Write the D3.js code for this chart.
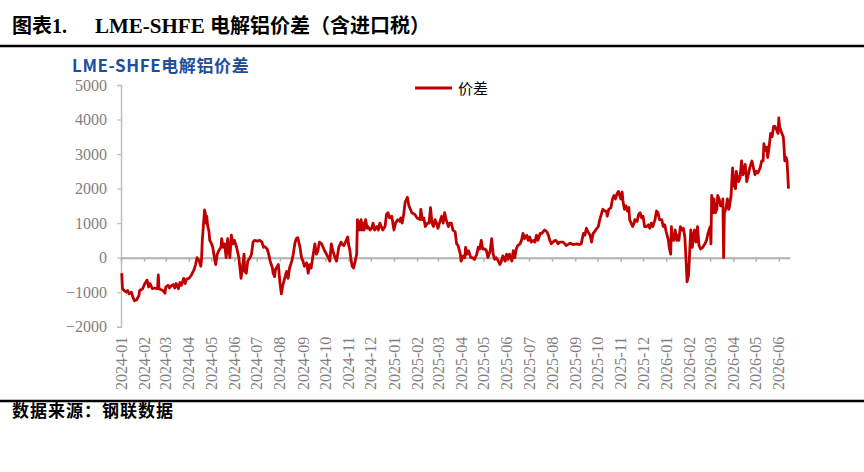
<!DOCTYPE html>
<html>
<head>
<meta charset="utf-8">
<script src="https://cdn.jsdelivr.net/npm/d3@7"></script>
<style>
  body { margin: 0; background: #fff; }
  svg { display: block; }
</style>
</head>
<body>
<div id="chart-area"></div>
<script>
// LME-SHFE 电解铝价差 (含进口税)
const dates = [
  "2024-01-02","2024-01-03","2024-01-05","2024-01-08","2024-01-10","2024-01-12","2024-01-15","2024-01-17","2024-01-19","2024-01-22",
  "2024-01-25","2024-01-26","2024-01-30","2024-02-02","2024-02-05","2024-02-07","2024-02-09","2024-02-12","2024-02-15","2024-02-19",
  "2024-02-20","2024-02-21","2024-02-23","2024-02-26","2024-02-29","2024-03-01","2024-03-04","2024-03-06","2024-03-08","2024-03-11",
  "2024-03-13","2024-03-15","2024-03-18","2024-03-20","2024-03-22","2024-03-25","2024-03-27","2024-03-29","2024-04-01","2024-04-03",
  "2024-04-05","2024-04-08","2024-04-10","2024-04-12","2024-04-15","2024-04-17","2024-04-18","2024-04-19","2024-04-22","2024-04-23",
  "2024-04-24","2024-04-25","2024-04-26","2024-04-28","2024-04-29","2024-05-01","2024-05-03","2024-05-06","2024-05-07","2024-05-09",
  "2024-05-11","2024-05-14","2024-05-15","2024-05-17","2024-05-19","2024-05-21","2024-05-23","2024-05-26","2024-05-28","2024-05-30",
  "2024-06-01","2024-06-04","2024-06-07","2024-06-10","2024-06-12","2024-06-14","2024-06-15","2024-06-17","2024-06-19","2024-06-22",
  "2024-06-24","2024-06-26","2024-06-28","2024-07-02","2024-07-05","2024-07-08","2024-07-10","2024-07-12","2024-07-15","2024-07-17",
  "2024-07-19","2024-07-22","2024-07-23","2024-07-25","2024-07-26","2024-07-30","2024-08-01","2024-08-03","2024-08-05","2024-08-08",
  "2024-08-10","2024-08-12","2024-08-14","2024-08-17","2024-08-19","2024-08-21","2024-08-23","2024-08-25","2024-08-28","2024-08-30",
  "2024-09-01","2024-09-03","2024-09-06","2024-09-08","2024-09-10","2024-09-12","2024-09-14","2024-09-17","2024-09-19","2024-09-21",
  "2024-09-23","2024-09-26","2024-09-28","2024-09-30","2024-10-05","2024-10-07","2024-10-09","2024-10-11","2024-10-14","2024-10-16",
  "2024-10-19","2024-10-22","2024-10-23","2024-10-26","2024-10-28","2024-10-31","2024-11-01","2024-11-03","2024-11-04","2024-11-06",
  "2024-11-08","2024-11-09","2024-11-11","2024-11-12","2024-11-13","2024-11-15","2024-11-16","2024-11-18","2024-11-19","2024-11-21",
  "2024-11-22","2024-11-24","2024-11-26","2024-11-27","2024-11-30","2024-12-02","2024-12-04","2024-12-06","2024-12-09","2024-12-11",
  "2024-12-13","2024-12-15","2024-12-17","2024-12-20","2024-12-22","2024-12-24","2024-12-26","2024-12-29","2025-01-01","2025-01-03",
  "2025-01-06","2025-01-09","2025-01-10","2025-01-12","2025-01-14","2025-01-16","2025-01-19","2025-01-21","2025-01-23","2025-01-25",
  "2025-01-29","2025-02-01","2025-02-05","2025-02-06","2025-02-08","2025-02-10","2025-02-12","2025-02-15","2025-02-17","2025-02-19",
  "2025-02-21","2025-02-23","2025-02-25","2025-02-27","2025-03-01","2025-03-03","2025-03-06","2025-03-08","2025-03-10","2025-03-12",
  "2025-03-15","2025-03-17","2025-03-19","2025-03-21","2025-03-24","2025-03-26","2025-03-28","2025-03-31","2025-04-01","2025-04-04",
  "2025-04-06","2025-04-07","2025-04-09","2025-04-11","2025-04-14","2025-04-16","2025-04-19","2025-04-22","2025-04-24","2025-04-26",
  "2025-04-28","2025-04-30","2025-05-03","2025-05-05","2025-05-07","2025-05-10","2025-05-12","2025-05-14","2025-05-16","2025-05-18",
  "2025-05-21","2025-05-23","2025-05-25","2025-05-27","2025-05-30","2025-06-01","2025-06-03","2025-06-05","2025-06-08","2025-06-10",
  "2025-06-12","2025-06-14","2025-06-16","2025-06-19","2025-06-21","2025-06-23","2025-06-25","2025-06-28","2025-06-30","2025-07-02",
  "2025-07-04","2025-07-07","2025-07-09","2025-07-11","2025-07-13","2025-07-16","2025-07-18","2025-07-20","2025-07-22","2025-07-25",
  "2025-07-27","2025-07-29","2025-07-31","2025-08-02","2025-08-05","2025-08-07","2025-08-09","2025-08-11","2025-08-16","2025-08-20",
  "2025-08-25","2025-08-29","2025-09-03","2025-09-07","2025-09-09","2025-09-12","2025-09-14","2025-09-16","2025-09-18","2025-09-21",
  "2025-09-23","2025-09-25","2025-09-27","2025-09-30","2025-10-02","2025-10-04","2025-10-06","2025-10-08","2025-10-11","2025-10-13",
  "2025-10-14","2025-10-16","2025-10-19","2025-10-21","2025-10-23","2025-10-25","2025-10-27","2025-10-29","2025-11-01","2025-11-03",
  "2025-11-04","2025-11-06","2025-11-08","2025-11-10","2025-11-12","2025-11-13","2025-11-15","2025-11-17","2025-11-19","2025-11-20",
  "2025-11-23","2025-11-25","2025-11-27","2025-11-29","2025-12-01","2025-12-03","2025-12-06","2025-12-08","2025-12-10","2025-12-12",
  "2025-12-14","2025-12-17","2025-12-19","2025-12-21","2025-12-23","2025-12-26","2025-12-28","2025-12-30","2026-01-01","2026-01-04",
  "2026-01-05","2026-01-07","2026-01-08","2026-01-09","2026-01-11","2026-01-13","2026-01-15","2026-01-17","2026-01-18","2026-01-20",
  "2026-01-22","2026-01-24","2026-01-26","2026-01-27","2026-01-29","2026-01-31","2026-02-02","2026-02-03","2026-02-05","2026-02-07",
  "2026-02-08","2026-02-10","2026-02-12","2026-02-14","2026-02-16","2026-02-19","2026-02-22","2026-02-24","2026-02-26","2026-03-01",
  "2026-03-02","2026-03-03","2026-03-05","2026-03-06","2026-03-08","2026-03-10","2026-03-11","2026-03-13","2026-03-15","2026-03-17",
  "2026-03-18","2026-03-19","2026-03-20","2026-03-22","2026-03-24","2026-03-26","2026-03-27","2026-03-29","2026-03-31","2026-04-02",
  "2026-04-04","2026-04-05","2026-04-08","2026-04-10","2026-04-12","2026-04-14","2026-04-17","2026-04-19","2026-04-21","2026-04-23",
  "2026-04-26","2026-04-28","2026-04-30","2026-05-02","2026-05-04","2026-05-07","2026-05-09","2026-05-11","2026-05-12","2026-05-14",
  "2026-05-16","2026-05-17","2026-05-19","2026-05-21","2026-05-23","2026-05-25","2026-05-27","2026-05-29","2026-05-31","2026-06-01",
  "2026-06-02","2026-06-05","2026-06-07","2026-06-08","2026-06-09","2026-06-11","2026-06-12","2026-06-14"
]

const spread = [
  -450,-900,-950,-1000,-950,-1050,-1000,-1150,-1250,-1220,
  -1100,-950,-900,-750,-650,-850,-750,-900,-880,-900,
  -500,-900,-920,-950,-1030,-850,-800,-880,-820,-780,
  -880,-750,-900,-720,-800,-600,-750,-620,-600,-550,
  -480,-350,-200,0,-100,-250,-50,500,1380,1300,
  1000,1200,950,750,500,420,300,-100,-200,100,
  200,300,550,300,400,0,550,0,650,400,
  500,300,0,-600,-250,100,-400,-450,-100,0,
  100,450,500,480,500,450,300,320,250,100,
  -100,-300,-450,-550,-350,-200,-700,-1050,-800,-550,
  -400,-600,-300,-100,100,400,550,580,300,0,
  -100,-250,-150,-450,-200,-300,0,400,100,200,
  450,400,300,200,0,-100,400,200,0,-100,
  300,450,400,350,450,600,400,200,0,-250,
  -300,-200,0,100,1100,1000,800,1100,800,1000,
  800,1100,850,900,800,850,1000,800,900,800,
  1000,900,800,900,1250,1300,1150,1200,800,1000,
  1100,1050,1150,1000,1250,1600,1750,1500,1400,1300,
  1250,1150,1100,1400,1100,1150,900,1000,1000,1450,
  1000,900,1100,1000,850,1000,1200,1000,1300,1100,
  900,1000,1000,800,750,400,350,100,-100,50,
  0,300,100,200,0,0,-50,100,300,250,
  500,250,250,200,0,200,550,100,-50,0,
  -100,-200,-100,50,-100,100,-50,100,-100,200,
  0,250,350,400,500,700,550,650,500,600,
  450,500,450,650,500,700,700,750,800,750,
  650,500,400,450,500,480,400,450,450,350,
  420,380,400,380,400,700,650,850,750,650,
  450,700,750,850,900,1100,1250,1400,1350,1350,
  1200,1400,1450,1700,1800,1700,1850,1920,1700,1900,
  1650,1400,1500,1350,1450,1100,1000,900,1000,1100,
  1050,1250,1300,1150,1200,900,900,950,850,1000,
  900,1100,1350,1300,1100,1100,900,950,750,500,
  300,100,900,500,500,800,500,650,500,900,
  800,850,600,200,-700,-500,400,800,300,700,
  800,450,900,350,250,300,400,500,700,900,
  400,1800,1300,1700,1300,1400,1800,1700,1500,1500,
  1700,0,1300,1400,1700,1400,1500,1800,2600,2100,
  2000,2500,2200,2300,2800,2400,2700,2200,2400,2600,
  2800,2600,2400,2500,2450,2600,2800,2800,3300,3100,
  3200,2900,3200,3600,3500,3800,3800,3700,3600,4050,
  3800,3600,3500,3200,2800,2900,2800,2000
]

const yTicks = [5000, 4000, 3000, 2000, 1000, 0, -1000, -2000]
const seriesName = "价差"
const chartTitle = "LME-SHFE电解铝价差"
const sourceNote = "数据来源：钢联数据"

const parseDate = d3.timeParse("%Y-%m-%d")
const dataset = dates.map((d, i) => ({ date: parseDate(d), value: spread[i] }))
const xAccessor = d => d.date
const yAccessor = d => d.value

const width = 864
const height = 472
const plot = { left: 121, right: 790, top: 85, bottom: 326.7 }

const svg = d3.select("#chart-area")
  .append("svg")
  .attr("width", width)
  .attr("height", height)

const xScale = d3.scaleTime()
  .domain([parseDate("2024-01-01"), parseDate("2026-06-16")])
  .range([plot.left, plot.right])

const yScale = d3.scaleLinear()
  .domain([-2000, 5000])
  .range([plot.bottom, plot.top])

const months = d3.timeMonth.range(parseDate("2024-01-01"), parseDate("2026-06-02"))

// header
const title = svg.append("text")
  .attr("x", 12)
  .attr("y", 33)
  .attr("font-size", 20)
  .attr("font-weight", "bold")
  .attr("fill", "#000")
  .style("font-family", "'Liberation Serif', 'Noto Sans CJK SC', serif")
title.append("tspan").text("图表1.")
title.append("tspan").attr("x", 95).attr("font-size", 21).text("LME-SHFE")
title.append("tspan").attr("x", 210)
  .style("font-family", "'Noto Sans CJK SC', sans-serif")
  .text("电解铝价差（含进口税）")

svg.append("line")
  .attr("x1", 0).attr("x2", width)
  .attr("y1", 46).attr("y2", 46)
  .attr("stroke", "#000")
  .attr("stroke-width", 2.5)

svg.append("text")
  .attr("x", 72)
  .attr("y", 72)
  .attr("font-size", 17)
  .attr("font-weight", "bold")
  .attr("fill", "#1f4e9c")
  .style("font-family", "'Noto Sans CJK SC', sans-serif")
  .style("letter-spacing", "0.6px")
  .text(chartTitle)

// legend
const legend = svg.append("g").attr("transform", "translate(415,88)")
legend.append("line")
  .attr("x1", 0).attr("x2", 37)
  .attr("stroke", "#c00000")
  .attr("stroke-width", 3)
legend.append("text")
  .attr("x", 43)
  .attr("y", 6)
  .attr("font-size", 15)
  .attr("fill", "#000")
  .style("font-family", "'Noto Sans CJK SC', sans-serif")
  .text(seriesName)

// y axis
const yAxis = svg.append("g")
  .attr("transform", `translate(${plot.left},0)`)
  .call(d3.axisLeft(yScale).tickValues(yTicks).tickSize(4).tickPadding(10).tickFormat(d3.format("d")))
yAxis.select(".domain").attr("stroke", "#bfbfbf").attr("stroke-width", 1.5)
yAxis.selectAll(".tick line").attr("stroke", "#bfbfbf").attr("stroke-width", 1.2)
yAxis.selectAll(".tick text")
  .attr("fill", "#7f7f7f")
  .attr("font-size", 16)
  .style("font-family", "'Liberation Serif', serif")

// zero line with month ticks
const zeroAxis = svg.append("g")
  .attr("transform", `translate(0,${yScale(0)})`)
  .call(d3.axisBottom(xScale).tickValues(months).tickSize(4).tickSizeOuter(0).tickFormat(""))
zeroAxis.select(".domain").attr("stroke", "#b0b0b0").attr("stroke-width", 2)
zeroAxis.selectAll(".tick line").attr("stroke", "#b0b0b0").attr("stroke-width", 1.5)

// month labels at the bottom
svg.append("g")
  .selectAll("text")
  .data(months)
  .join("text")
  .attr("transform", d => `translate(${xScale(d)},${plot.bottom + 10}) rotate(-90)`)
  .attr("text-anchor", "end")
  .attr("dy", "0.35em")
  .attr("font-size", 16)
  .attr("fill", "#7f7f7f")
  .style("font-family", "'Liberation Serif', serif")
  .text(d3.timeFormat("%Y-%m"))

// the spread line
const lineGenerator = d3.line()
  .x(d => xScale(xAccessor(d)))
  .y(d => yScale(yAccessor(d)))

svg.append("path")
  .attr("d", lineGenerator(dataset))
  .attr("fill", "none")
  .attr("stroke", "#c00000")
  .attr("stroke-width", 2.8)
  .attr("stroke-linejoin", "round")

// footer
svg.append("line")
  .attr("x1", 0).attr("x2", width)
  .attr("y1", 401).attr("y2", 401)
  .attr("stroke", "#000")
  .attr("stroke-width", 2.5)

svg.append("text")
  .attr("x", 12)
  .attr("y", 417)
  .attr("font-size", 17)
  .attr("font-weight", "bold")
  .attr("fill", "#000")
  .style("font-family", "'Noto Sans CJK SC', sans-serif")
  .style("letter-spacing", "1px")
  .text(sourceNote)
</script>
</body>
</html>
